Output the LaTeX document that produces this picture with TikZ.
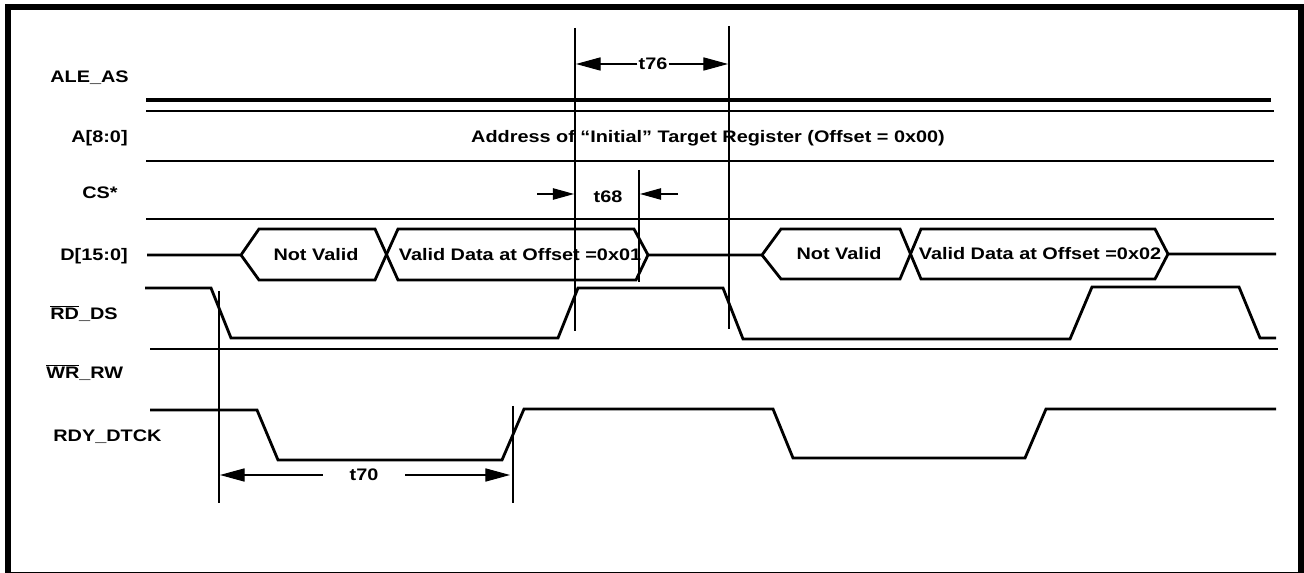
\documentclass[tikz,border=0pt]{standalone}
\usepackage{fontspec}
\setmainfont{Liberation Sans}[FakeStretch=1.19]
\usetikzlibrary{arrows.meta}
\tikzstyle{sig} = [line width=1.6pt, line join=miter]
\tikzstyle{guide} = [line width=0.6pt]
\tikzstyle{lbl} = [anchor=base west, inner sep=0pt]
\tikzstyle{dimarr} = [line width=0.6pt, -{Triangle[length=14pt,width=7.5pt]}]
\definecolor{SigCol}{RGB}{0,0,0}

\begin{document}
\begin{tikzpicture}[x=0.02cm, y=-0.02cm, font=\fontsize{9.5}{11.4}\selectfont\bfseries, color=SigCol]

                    \useasboundingbox (0,0) rectangle (1304,573);
                    \draw[line width=3.4pt] (8,7) rectangle (1301,575);

                    % signal names
                    \node[lbl] (nALE) at (50,83) {ALE\_AS};
                    \node[lbl] (nA) at (71,143) {A[8:0]};
                    \node[lbl] (nCS) at (82,199) {CS*};
                    \node[lbl] (nD) at (60,261) {D[15:0]};
                    \node[lbl] (nRD) at (50,320) {$\overline{\hbox{RD}}$\_DS};
                    \node[lbl] (nWR) at (46,379) {$\overline{\hbox{WR}}$\_RW};
                    \node[lbl] (nRDY) at (53,442) {RDY\_DTCK};

                    % ALE_AS, A[8:0], CS*
                    \draw[sig, line width=2pt] (146,100) -- (1271,100);
                    \draw[sig] (146,111) -- (1274,111);
                    \draw[sig] (146,161) -- (1274,161);
                    \node[anchor=base] (addr) at (708,143) {Address of “Initial” Target Register (Offset = 0x00)};
                    \draw[sig] (146,219) -- (1274,219);

                    % D[15:0]
                    \draw[sig] (147,255) -- (241,255) -- (259,229) -- (375,229) -- (398,280) -- (636,280) -- (648,255)
                        -- (762,255) -- (781,229) -- (900,229) -- (921,279) -- (1155,279) -- (1168,254) -- (1276,254);
                    \draw[sig] (241,255) -- (259,280) -- (375,280) -- (398,229) -- (634,229) -- (648,255);
                    \draw[sig] (762,255) -- (781,279) -- (900,279) -- (921,229) -- (1155,229) -- (1168,254);
                    \node[anchor=base] (nv1) at (316,261) {Not Valid};
                    \node[anchor=base] (vd1) at (520,261) {Valid Data at Offset =0x01};
                    \node[anchor=base] (nv2) at (839,260) {Not Valid};
                    \node[anchor=base] (vd2) at (1040,260) {Valid Data at Offset =0x02};

                    % RD_DS, WR_RW, RDY_DTCK
                    \draw[sig] (145,288) -- (211,288) -- (231,338) -- (558,338) -- (578,288) -- (723,288) -- (743,339)
                        -- (1070,339) -- (1092,287) -- (1239,287) -- (1260,338) -- (1276,338);
                    \draw[sig] (150,349) -- (1278,349);
                    \draw[sig] (150,410) -- (257,410) -- (278,460) -- (502,460) -- (524,409) -- (773,409) -- (793,458)
                        -- (1025,458) -- (1046,409) -- (1276,409);

                    % timing guides
                    \draw[guide] (219,291) -- (219,503);
                    \draw[guide] (513,406) -- (513,503);
                    \draw[guide] (575,28) -- (575,331);
                    \draw[guide] (729,26) -- (729,329);
                    \draw[guide] (639,170) -- (639,282);

                    \coordinate (t70L) at (220,475);
                    \coordinate (t70R) at (510,475);
                    \coordinate (t76L) at (576,64);
                    \coordinate (t76R) at (728,64);
                    \coordinate (t68L) at (574,194);
                    \coordinate (t68R) at (640,194);

                    \node[inner xsep=15pt] (lbl70) at (364,475) {t70};
                    \draw[dimarr] (lbl70) -- (t70L);
                    \draw[dimarr] (lbl70) -- (t70R);

                    \node[inner xsep=0.5pt] (lbl76) at (653,64) {t76};
                    \draw[dimarr] (lbl76) -- (t76L);
                    \draw[dimarr] (lbl76) -- (t76R);

                    \node (lbl68) at (608,197) {t68};
                    \draw[dimarr, -{Triangle[length=12pt,width=6.5pt]}] (537,194) -- (t68L);
                    \draw[dimarr, -{Triangle[length=12pt,width=6.5pt]}] (678,194) -- (t68R);

                \end{tikzpicture}
\end{document}
